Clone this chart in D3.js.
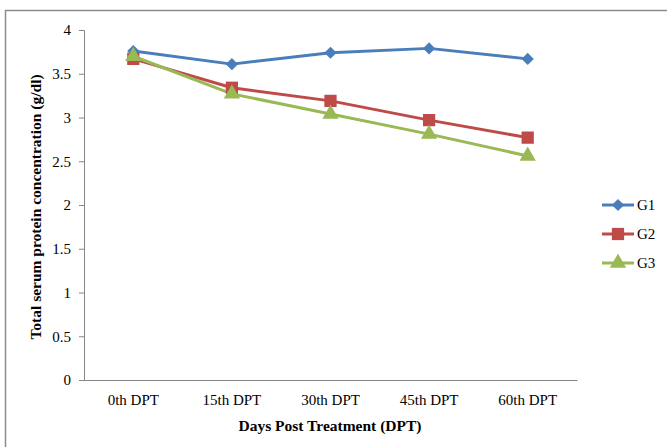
<!DOCTYPE html>
<html><head><meta charset="utf-8">
<script src="https://cdn.jsdelivr.net/npm/d3@7"></script>
<style>body{margin:0;background:#fff}svg{display:block}</style>
</head><body>
<script>
const categories = ["0th DPT","15th DPT","30th DPT","45th DPT","60th DPT"];
const seriesNames = ["G1","G2","G3"];
const g1 = [3.76, 3.61, 3.74, 3.79, 3.67];
const g2 = [3.67, 3.34, 3.19, 2.97, 2.77];
const g3 = [3.70, 3.27, 3.04, 2.81, 2.56];
const yTicks = [0,0.5,1,1.5,2,2.5,3,3.5,4];
const colors = ["#4a7ebb","#be4b48","#98b954"];
const symbols = [d3.symbolDiamond2, d3.symbolSquare, d3.symbolTriangle];
const symSizes = [95, 150, 115];
const allSeries = [g1,g2,g3];

const W=667,H=447;
const svg=d3.select("body").append("svg").attr("width",W).attr("height",H);
svg.append("rect").attr("x",5.5).attr("y",10.5).attr("width",700).attr("height",500)
  .attr("fill","#fff").attr("stroke","#8c8c8c").attr("stroke-width",1.5);

const x=d3.scaleBand().domain(categories).range([84,577]);
const y=d3.scaleLinear().domain([0,4]).range([380,30]);
const font="'Liberation Serif','Times New Roman',serif";

const ya=svg.append("g").attr("transform","translate(84,0)")
  .call(d3.axisLeft(y).tickValues(yTicks).tickSize(5).tickPadding(8).tickFormat(d3.format("")));
ya.select(".domain").attr("stroke","#868686");
ya.selectAll(".tick line").attr("stroke","#868686");
ya.selectAll("text").attr("font-family",font).attr("font-size",15).attr("fill","#000");

const xa=svg.append("g").attr("transform","translate(0,380)")
  .call(d3.axisBottom(x).tickSize(0).tickPadding(14));
xa.select(".domain").attr("stroke","#868686");
xa.selectAll("text").attr("font-family",font).attr("font-size",15).attr("fill","#000");

svg.append("text").attr("x",330).attr("y",431).attr("text-anchor","middle")
  .attr("font-family",font).attr("font-weight","bold").attr("font-size",15.5).text("Days Post Treatment (DPT)");
svg.append("text").attr("transform","translate(41,207) rotate(-90)").attr("text-anchor","middle")
  .attr("font-family",font).attr("font-weight","bold").attr("font-size",15.5).text("Total serum protein concentration (g/dl)");

const line=d3.line().x((d,i)=>x(categories[i])+x.bandwidth()/2).y(d=>y(d));
allSeries.forEach((s,k)=>{
  svg.append("path").datum(s).attr("d",line).attr("fill","none")
    .attr("stroke",colors[k]).attr("stroke-width",3).attr("stroke-linejoin","round");
});
allSeries.forEach((s,k)=>{
  svg.selectAll(null).data(s).enter().append("path")
    .attr("d",d3.symbol().type(symbols[k]).size(symSizes[k]))
    .attr("transform",(d,i)=>`translate(${x(categories[i])+x.bandwidth()/2},${y(d)})`)
    .attr("fill",colors[k]);
});

const lg=svg.append("g");
seriesNames.forEach((n,k)=>{
  const yy=205+k*29;
  lg.append("line").attr("x1",602).attr("x2",634).attr("y1",yy).attr("y2",yy)
    .attr("stroke",colors[k]).attr("stroke-width",3);
  lg.append("path").attr("d",d3.symbol().type(symbols[k]).size(symSizes[k]))
    .attr("transform",`translate(618,${yy})`).attr("fill",colors[k]);
  lg.append("text").attr("x",637).attr("y",yy).attr("dy","0.35em")
    .attr("font-family",font).attr("font-size",15).text(n);
});
</script>
</body></html>
